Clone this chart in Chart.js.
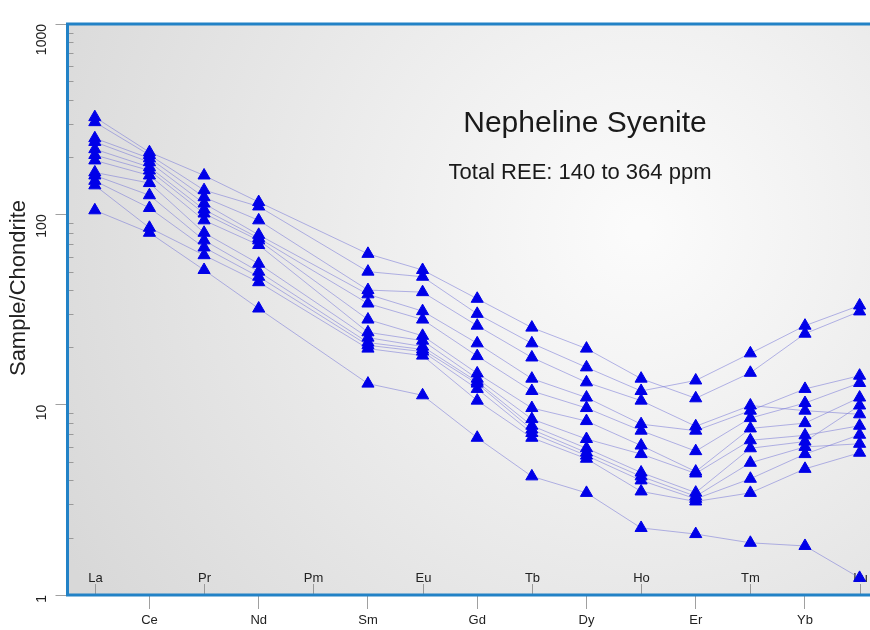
<!DOCTYPE html>
<html>
<head>
<meta charset="utf-8">
<title>Nepheline Syenite REE</title>
<script src="https://cdn.jsdelivr.net/npm/chart.js@4/dist/chart.umd.min.js"></script>
<style>
  html, body { margin: 0; padding: 0; background: #ffffff; overflow: hidden; }
  #wrap { width: 870px; height: 630px; position: relative; }
</style>
</head>
<body>
<div id="wrap"><canvas id="ree"></canvas></div>
<script>
// Rare earth elements, chondrite-normalised (Pm is not analysed)
const elements = ['La','Ce','Pr','Nd','Pm','Sm','Eu','Gd','Tb','Dy','Ho','Er','Tm','Yb','Lu'];
const yTicks = [1, 10, 100, 1000];

const sample01 = [324, 212, 160, 116, null, 62, 51, 36, 25.4, 19.7, 13.7, 10.8, 14.7, 23.6, 30.9];
const sample02 = [305, 205, 134, 110, null, 50, 47, 30, 21, 15.7, 11.8, 13.4, 18.6, 26, 33.2];
const sample03 = [251, 197, 123, 93, null, 40, 39, 26, 17.7, 13.1, 10.5, 7.7, 9.9, 9.3, 8.9];
const sample04 = [240, 188, 114, 78, null, 38, 31, 21, 13.7, 10.9, 7.9, 7.3, 9.3, 12.1, 14.2];
const sample05 = [220, 177, 106, 75, null, 34, 28, 18, 11.8, 9.6, 7.3, 5.7, 8.5, 10.2, 13.0];
const sample06 = [205, 170, 101, 73, null, 28, 23, 14.6, 9.6, 8.2, 6.1, 4.45, 7.5, 8.0, 10.9];
const sample07 = [192, 160, 93, 69, null, 24, 21.7, 13.7, 8.4, 6.6, 5.5, 4.35, 6.5, 6.9, 7.75];
const sample08 = [166, 146, 80, 55, null, 22.5, 20.2, 13.2, 7.75, 5.9, 4.4, 3.45, 5.9, 6.4, 9.9];
const sample09 = [160, 126, 73, 50, null, 21.2, 19.5, 12.9, 7.4, 5.6, 4.2, 3.3, 4.95, 6.0, 6.23];
const sample10 = [150, 108, 67, 47, null, 20.5, 19, 12.1, 7.1, 5.4, 4.0, 3.2, 4.08, 5.5, 6.95];
const sample11 = [142, 85, 61, 44, null, 19.7, 18.1, 10.5, 6.7, 5.2, 3.5, 3.1, 3.44, 4.6, 5.59];
const sample12 = [105, 80, 51, 32, null, 12.9, 11.2, 6.7, 4.2, 3.44, 2.25, 2.09, 1.88, 1.81, 1.23];

const samples = [sample01, sample02, sample03, sample04, sample05, sample06,
                 sample07, sample08, sample09, sample10, sample11, sample12];

const titleText = 'Nepheline Syenite';
const subtitleText = 'Total REE: 140 to 364 ppm';
const yTitle = 'Sample/Chondrite';

const FONT = '"Liberation Sans", Arial, sans-serif';
const FRAME = '#2282c6';

const datasets = samples.map(arr => ({
  data: arr.map((v, i) => (v == null ? null : { x: i, y: v })).filter(Boolean),
  borderColor: 'rgba(120, 120, 215, 0.55)',
  borderWidth: 1,
  pointStyle: 'triangle',
  pointRadius: 7,
  pointBackgroundColor: '#0000e8',
  pointBorderColor: '#0000e8',
  pointBorderWidth: 1,
  tension: 0,
  clip: false
}));

const decor = {
  id: 'decor',
  beforeDraw(chart) {
    const { ctx, chartArea: a } = chart;
    ctx.save();
    const g = ctx.createRadialGradient(640, 230, 10, 640, 230, 660);
    g.addColorStop(0, '#fbfbfb');
    g.addColorStop(0.3, '#f1f1f1');
    g.addColorStop(1, '#d8d8d8');
    ctx.fillStyle = g;
    ctx.fillRect(a.left, a.top, a.right - a.left, a.bottom - a.top);
    // value-axis title
    ctx.fillStyle = '#222';
    ctx.font = '22px ' + FONT;
    ctx.textAlign = 'center';
    ctx.textBaseline = 'middle';
    ctx.translate(19, 288);
    ctx.rotate(-Math.PI / 2);
    ctx.fillText(yTitle, 0, 0);
    ctx.restore();
  },
  beforeDatasetsDraw(chart) {
    const { ctx, chartArea: a, scales } = chart;
    const xs = scales.x, ys = scales.y;
    ctx.save();
    // minor ticks along the inside of the value axis
    ctx.strokeStyle = '#9a9a9a';
    ctx.lineWidth = 1;
    for (let d = 1; d < 1000; d *= 10) {
      for (let m = 2; m <= 9; m++) {
        const py = Math.round(ys.getPixelForValue(d * m)) + 0.5;
        ctx.beginPath();
        ctx.moveTo(a.left, py);
        ctx.lineTo(a.left + 6, py);
        ctx.stroke();
      }
    }
    // inner element labels (La, Pr, Pm ...) with their short ticks
    ctx.fillStyle = '#222';
    ctx.font = '13px ' + FONT;
    ctx.textAlign = 'center';
    ctx.textBaseline = 'middle';
    elements.forEach((el, i) => {
      if (i % 2 !== 0) return;
      const px = Math.round(xs.getPixelForValue(i)) + 0.5;
      ctx.beginPath();
      ctx.moveTo(px, a.bottom - 11);
      ctx.lineTo(px, a.bottom);
      ctx.stroke();
      ctx.fillText(el, px, a.bottom - 17);
    });
    // headings
    ctx.fillStyle = '#1a1a1a';
    ctx.font = '30px ' + FONT;
    ctx.fillText(titleText, 585, 124);
    ctx.font = '22px ' + FONT;
    ctx.fillText(subtitleText, 580, 173);
    ctx.restore();
  },
  afterDraw(chart) {
    const { ctx, chartArea: a } = chart;
    ctx.save();
    ctx.strokeStyle = FRAME;
    ctx.lineWidth = 3;
    ctx.beginPath();
    ctx.moveTo(a.right + 2, a.top);
    ctx.lineTo(a.left, a.top);
    ctx.lineTo(a.left, a.bottom);
    ctx.lineTo(a.right + 2, a.bottom);
    ctx.stroke();
    ctx.restore();
  }
};

new Chart(document.getElementById('ree'), {
  type: 'line',
  data: { datasets },
  plugins: [decor],
  options: {
    responsive: true,
    maintainAspectRatio: false,
    animation: false,
    events: [],
    layout: { autoPadding: false, padding: { top: 24, right: 0, left: 0, bottom: 0 } },
    plugins: { legend: { display: false }, tooltip: { enabled: false } },
    scales: {
      x: {
        type: 'linear',
        min: -0.5,
        max: 14.19,
        afterBuildTicks: s => { s.ticks = elements.map((_, i) => ({ value: i })); },
        afterFit: s => { s.height = 35; },
        ticks: {
          autoSkip: false,
          maxRotation: 0,
          padding: 4,
          color: '#222',
          font: { family: FONT, size: 13 },
          callback: v => (v % 2 === 1 ? elements[v] : '')
        },
        grid: {
          drawOnChartArea: false,
          tickLength: 14,
          tickColor: c => (c.index % 2 === 1 ? '#a0a0a0' : 'rgba(0,0,0,0)')
        },
        border: { display: false }
      },
      y: {
        type: 'logarithmic',
        min: 1,
        max: 1000,
        afterBuildTicks: s => { s.ticks = yTicks.map(v => ({ value: v })); },
        afterFit: s => { s.width = 67.5; },
        ticks: {
          minRotation: 90,
          maxRotation: 90,
          padding: 13,
          color: '#222',
          font: { family: FONT, size: 14 },
          callback: v => String(v)
        },
        grid: { drawOnChartArea: false, tickLength: 12, tickColor: '#a0a0a0' },
        border: { display: false }
      }
    }
  }
});
</script>
</body>
</html>
